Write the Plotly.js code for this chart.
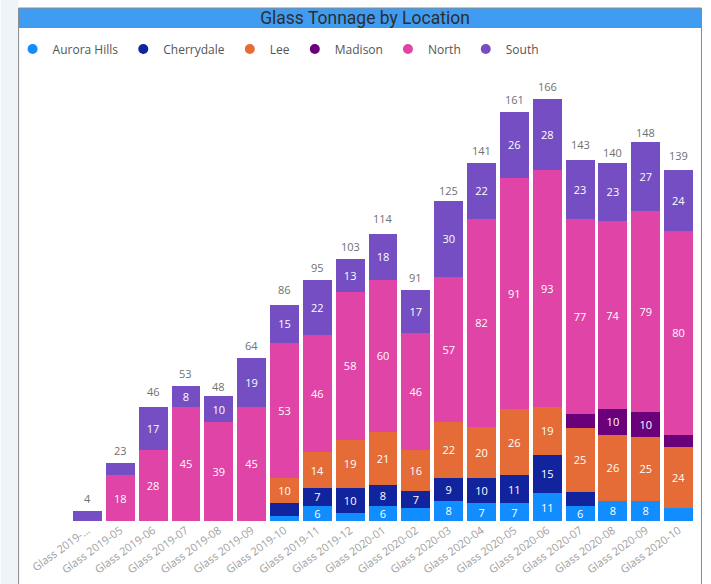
<!DOCTYPE html>
<html>
<head>
<meta charset="utf-8">
<script src="https://cdn.plot.ly/plotly-3.0.1.min.js"></script>
<style>
  html, body { margin: 0; padding: 0; background: #ffffff; }
  #chart { width: 711px; height: 584px; }
</style>
</head>
<body>
<div id="chart"></div>
<script>
const categories = ['Glass 2019-04','Glass 2019-05','Glass 2019-06','Glass 2019-07','Glass 2019-08','Glass 2019-09','Glass 2019-10','Glass 2019-11','Glass 2019-12','Glass 2020-01','Glass 2020-02','Glass 2020-03','Glass 2020-04','Glass 2020-05','Glass 2020-06','Glass 2020-07','Glass 2020-08','Glass 2020-09','Glass 2020-10'];
const tickLabels = ['Glass 2019-...','Glass 2019-05','Glass 2019-06','Glass 2019-07','Glass 2019-08','Glass 2019-09','Glass 2019-10','Glass 2019-11','Glass 2019-12','Glass 2020-01','Glass 2020-02','Glass 2020-03','Glass 2020-04','Glass 2020-05','Glass 2020-06','Glass 2020-07','Glass 2020-08','Glass 2020-09','Glass 2020-10'];

const auroraHills = [0,0,0,0,0,0,2,6,3,6,5,8,7,7,11,6,8,8,5];
const cherrydale  = [0,0,0,0,0,0,5,7,10,8,7,9,10,11,15,5.5,0,0,0];
const lee         = [0,0,0,0,0,0,10,14,19,21,16,22,20,26,19,25,26,25,24];
const madison     = [0,0,0,0,0,0,0,0,0,0,0,0,0,0,0,5.5,10,10,5];
const north       = [0,18,28,45,39,45,53,46,58,60,46,57,82,91,93,77,74,79,80];
const south       = [4,5,17,8,10,19,15,22,13,18,17,30,22,26,28,23,23,27,24];
const totals      = [4,23,46,53,48,64,86,95,103,114,91,125,141,161,166,143,140,148,139];

const seriesNames = ['Aurora Hills','Cherrydale','Lee','Madison','North','South'];
const seriesValues = [auroraHills, cherrydale, lee, madison, north, south];
const seriesColors = ['#118DFF','#12239E','#E66C37','#6B007B','#E044A7','#744EC2'];

const baseFont = 'Open Sans, Noto Sans, DejaVu Sans, sans-serif';
const traces = [];

seriesNames.forEach((name, i) => {
  const vals = seriesValues[i];
  traces.push({
    type: 'bar',
    name: name,
    x: categories,
    y: vals,
    marker: { color: seriesColors[i] },
    text: vals.map(v => v >= 6 ? String(Math.round(v)) : ''),
    textposition: 'inside',
    insidetextanchor: 'middle',
    textangle: 0,
    constraintext: 'none',
    textfont: { color: '#ffffff', size: 11, family: baseFont },
    showlegend: false,
    legendgroup: name,
    hoverinfo: 'skip'
  });
});

// legend entries with round markers
seriesNames.forEach((name, i) => {
  traces.push({
    type: 'scatter',
    mode: 'markers',
    name: name,
    x: [categories[0]],
    y: [null],
    marker: { color: seriesColors[i], size: 10, symbol: 'circle' },
    legendgroup: name,
    showlegend: true,
    hoverinfo: 'skip'
  });
});

// totals above the stacks
const totalAnnotations = categories.map((c, i) => ({
  x: c,
  y: totals[i],
  xref: 'x',
  yref: 'y',
  text: String(totals[i]),
  showarrow: false,
  yanchor: 'bottom',
  yshift: 3,
  font: { color: '#707070', size: 11, family: baseFont }
}));

const L = 70.5, R = 15.5, T = 75, B = 63;
const W = 711, H = 584;
const pw = W - L - R, ph = H - T - B;
const px = v => (v - L) / pw;
const py = v => (H - B - v) / ph;

const layout = {
  width: W,
  height: H,
  barmode: 'stack',
  bargap: 0.12,
  paper_bgcolor: '#ffffff',
  plot_bgcolor: 'rgba(0,0,0,0)',
  margin: { l: L, r: R, t: T, b: B, pad: 0 },
  font: { family: baseFont, color: '#666666', size: 11 },
  title: {
    text: 'Glass Tonnage by Location',
    x: 365 / W,
    xanchor: 'center',
    y: 1 - 18 / H,
    yanchor: 'middle',
    font: { family: 'Roboto, DejaVu Sans, sans-serif', size: 17.5, color: '#2e2e2e', weight: 'normal' }
  },
  showlegend: true,
  legend: {
    orientation: 'h',
    x: px(12),
    xanchor: 'left',
    y: py(49),
    yanchor: 'middle',
    font: { family: baseFont, size: 12, color: '#555555' },
    bgcolor: 'rgba(0,0,0,0)',
    itemclick: false,
    itemdoubleclick: false
  },
  annotations: totalAnnotations,
  xaxis: {
    type: 'category',
    tickmode: 'array',
    tickvals: categories,
    ticktext: tickLabels,
    tickangle: -36,
    tickfont: { family: baseFont, size: 11, color: '#a0a0a0' },
    showgrid: false,
    showline: false,
    zeroline: false,
    ticks: '',
    range: [-0.5, categories.length - 0.5],
    fixedrange: true
  },
  yaxis: {
    range: [0, (H - B - T) / 2.542],
    showgrid: false,
    showline: false,
    zeroline: false,
    showticklabels: false,
    ticks: '',
    fixedrange: true
  },
  shapes: [
    { type: 'rect', xref: 'paper', yref: 'paper', x0: px(0), x1: px(18), y0: py(600), y1: py(0),
      fillcolor: '#eef4fa', line: { width: 0 }, layer: 'below' },
    { type: 'rect', xref: 'paper', yref: 'paper', x0: px(18), x1: px(702), y0: py(28), y1: py(8),
      fillcolor: '#3f9cf0', line: { width: 0 }, layer: 'below' },
    { type: 'rect', xref: 'paper', yref: 'paper', x0: px(18), x1: px(702), y0: py(600), y1: py(8),
      fillcolor: 'rgba(0,0,0,0)', line: { color: '#8a8a8a', width: 1 }, layer: 'above' }
  ]
};

Plotly.newPlot('chart', traces, layout, { displayModeBar: false, staticPlot: true });
</script>
</body>
</html>
